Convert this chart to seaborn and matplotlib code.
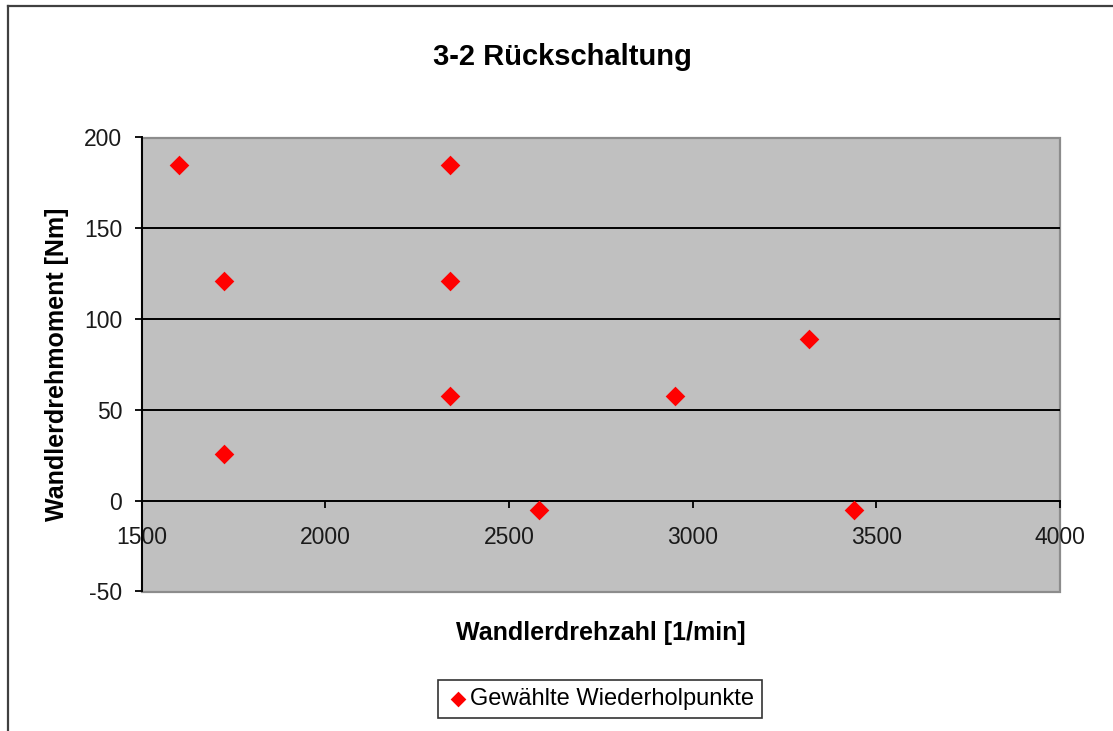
import matplotlib
matplotlib.use("Agg")
import matplotlib.pyplot as plt
from matplotlib.lines import Line2D
import seaborn as sns
import pandas as pd

# Wandlerdrehzahl [1/min] und Wandlerdrehmoment [Nm] der gewählten Punkte
drehzahl = [1602, 1725, 1725, 2338, 2338, 2338, 2582, 2952, 3317, 3438]
drehmoment = [185, 121, 25.6, 185, 121, 57.5, -5.3, 57.5, 89, -5.3]

x_ticks = [1500, 2000, 2500, 3000, 3500, 4000]
y_ticks = [-50, 0, 50, 100, 150, 200]

title = "3-2 Rückschaltung"
x_label = "Wandlerdrehzahl [1/min]"
y_label = "Wandlerdrehmoment [Nm]"
series_label = "Gewählte Wiederholpunkte"

df = pd.DataFrame({"drehzahl": drehzahl, "drehmoment": drehmoment})

plt.rcParams["font.family"] = ["Liberation Sans", "DejaVu Sans"]
plt.rcParams["axes.unicode_minus"] = False

W, H = 1113, 731
fig = plt.figure(figsize=(W / 100, H / 100), dpi=100, facecolor="white")
ax = fig.add_axes([141.7 / W, 1 - 591.5 / H, (1060 - 141.7) / W, (591.5 - 137.5) / H])

ax.set_facecolor("#C0C0C0")
ax.patch.set_edgecolor("#8C8C8C")
ax.patch.set_linewidth(1.6)

sns.scatterplot(data=df, x="drehzahl", y="drehmoment", marker="D", color="#FF0000",
                s=100, linewidth=0, ax=ax, label=series_label, legend=False, zorder=5)

ax.set_xlim(x_ticks[0], x_ticks[-1])
ax.set_ylim(y_ticks[0], y_ticks[-1])
ax.set_xticks(x_ticks)
ax.set_yticks(y_ticks)

# horizontal gridlines
for v in y_ticks[2:-1]:
    ax.axhline(v, color="black", lw=1.4, zorder=2)

for side in ("top", "right"):
    ax.spines[side].set_visible(False)
ax.spines["left"].set_color("black")
ax.spines["left"].set_linewidth(1.4)
ax.spines["bottom"].set_position(("data", 0))
ax.spines["bottom"].set_color("black")
ax.spines["bottom"].set_linewidth(1.4)

ax.tick_params(axis="y", direction="out", length=5, width=1.3, pad=9,
               labelsize=16.5, labelcolor="#1a1a1a")
ax.tick_params(axis="x", direction="out", length=5, width=1.3, pad=13,
               labelsize=16.5, labelcolor="#1a1a1a")

ax.set_xlabel(x_label, fontsize=18, fontweight="bold")
ax.set_ylabel(y_label, fontsize=18, fontweight="bold")
ax.xaxis.set_label_coords(0.5, (591.5 - 633) / 454)
ax.xaxis.label.set_va("center")
ax.yaxis.set_label_coords((57 - 141.7) / 918.3, 0.5)
ax.yaxis.label.set_va("center")
ax.yaxis.label.set_ha("center")

fig.text(562.5 / W, 1 - 57 / H, title, fontsize=21, fontweight="bold",
         ha="center", va="center")

handles, labels = ax.get_legend_handles_labels()
leg = fig.legend(handles, labels, loc="center", bbox_to_anchor=(600 / W, 1 - 699 / H),
                 fontsize=17, frameon=True, fancybox=False, edgecolor="black",
                 markerscale=0.8, handletextpad=0.0, borderpad=0.35,
                 handlelength=1.0, borderaxespad=0)
leg.get_frame().set_linewidth(1.2)

# chart frame (left and top edges)
fig.add_artist(Line2D([8 / W, 8 / W], [0, 1 - 6 / H], color="#404040", lw=1.6,
                      transform=fig.transFigure))
fig.add_artist(Line2D([8 / W, 1], [1 - 6 / H, 1 - 6 / H], color="#404040", lw=1.6,
                      transform=fig.transFigure))

fig.savefig("out.png", dpi=100)
